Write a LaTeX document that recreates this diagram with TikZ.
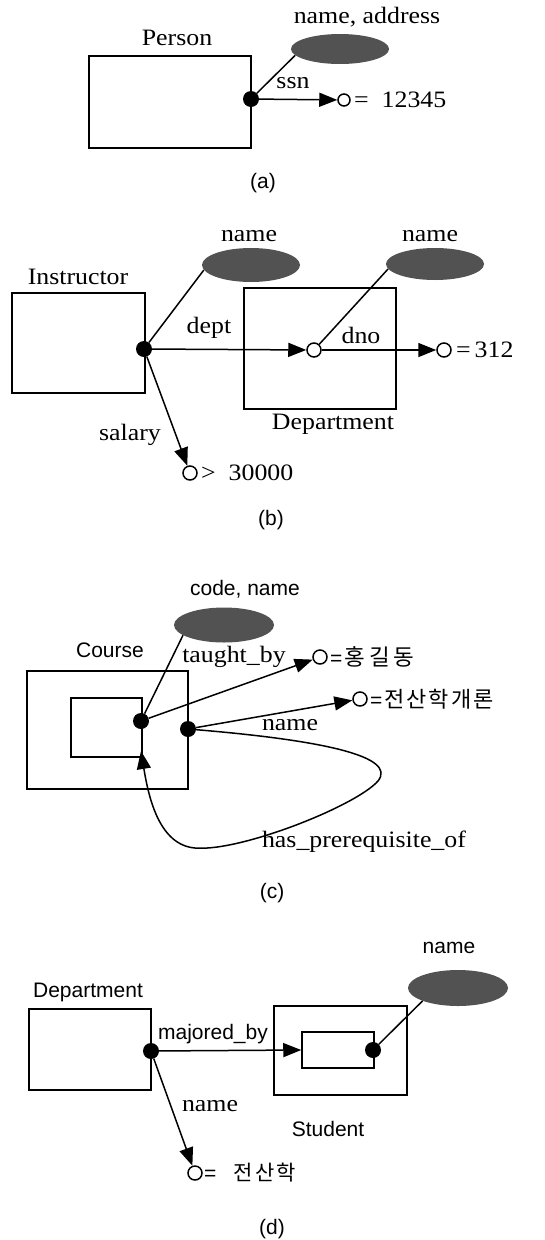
\documentclass[tikz,border=0pt]{standalone}
\usepackage{fontspec}
\setmainfont[FakeStretch=1.1]{Liberation Serif}
\setsansfont{Liberation Sans}
\newfontfamily\kr{Noto Sans CJK KR}
\usetikzlibrary{shapes.geometric,arrows.meta}

\begin{document}
\begin{tikzpicture}[x=1pt,y=-1pt,
  box/.style={draw,line width=1.5pt,inner sep=0pt},
  attr/.style={ellipse,fill=black!68,inner sep=0pt,minimum width=98pt,minimum height=32pt},
  obj/.style={circle,fill=black,inner sep=0pt,minimum size=16pt},
  val/.style={circle,draw,line width=1.5pt,fill=white,inner sep=0pt,minimum size=14pt},
  conn/.style={line width=1.5pt},
  arr/.style={line width=1.5pt,-{Triangle[length=18pt,width=14pt]}},
  serif/.style={font=\fontsize{23.5}{28}\selectfont,inner sep=0pt},
  sans/.style={font=\sffamily\fontsize{21}{25}\selectfont,inner sep=0pt},
]
\useasboundingbox (0,0) rectangle (544,1240);

% ---------------- (a) ----------------
\node[box,minimum width=162pt,minimum height=92pt] (person) at (170,102) {};
\node[serif] (personlbl) at (177,38) {Person};
\node[attr,minimum height=30pt] (aattr) at (340,49) {};
\node[serif] (aattrlbl) at (367,17) {name,\ address};
\node[obj] (adot) at (251,99) {};
\node[val,minimum size=12pt] (aval) at (344,100) {};
\node[serif,anchor=west] (avallbl) at (354,100) {=\ \ 12345};
\draw[conn] (adot) -- (aattr.188);
\draw[arr] (adot) -- (aval);
\node[serif] (ssn) at (293,83) {ssn};
\node[sans] (capa) at (263,183) {(a)};

% ---------------- (b) ----------------
\node[box,minimum width=133pt,minimum height=100pt] (instr) at (78.5,343) {};
\node[serif] (instrlbl) at (78,277) {Instructor};
\node[box,minimum width=152pt,minimum height=121pt] (deptb) at (320,348.5) {};
\node[serif] (deptblbl) at (333,424) {Department};
\node[attr,minimum height=34pt] (battr1) at (251,265) {};
\node[serif] (battr1lbl) at (249,236) {name};
\node[attr] (battr2) at (435,264) {};
\node[serif] (battr2lbl) at (430,236) {name};
\node[obj] (bdot) at (144,349) {};
\node[val] (bmid) at (314,350) {};
\node[val] (bdno) at (444,350) {};
\node[val] (bsal) at (190,473) {};
\draw[conn] (bdot) -- (battr1.186);
\draw[conn] (bmid) -- (battr2.186);
\draw[arr] (bdot) -- (bmid);
\draw[arr] (bmid) -- (bdno);
\draw[arr] (bdot) -- (bsal);
\node[serif] (deptlbl) at (209,328) {dept};
\node[serif] (dnolbl) at (361,335) {dno};
\node[serif] (sallbl) at (130,435) {salary};
\node[serif,anchor=west] (bdnoval) at (456,350) {=\,312};
\node[serif,anchor=west] (bsalval) at (201,473) {>\ \ 30000};
\node[sans] (capb) at (271,520) {(b)};

% ---------------- (c) ----------------
\node[box,minimum width=161pt,minimum height=118pt] (course) at (107.5,730) {};
\node[box,line width=1.2pt,minimum width=71pt,minimum height=59pt] (cinner) at (106.5,727.5) {};
\node[sans] (courselbl) at (110,650) {Course};
\node[attr,minimum width=100pt,minimum height=35pt] (cattr) at (224,625) {};
\node[sans] (cattrlbl) at (245,589) {code,\ name};
\node[obj] (cdot1) at (141,721) {};
\node[obj] (cdot2) at (188,729) {};
\node[val] (cval1) at (320,657) {};
\node[val] (cval2) at (360,699) {};
\coordinate (ctip) at (141,751);
\draw[conn] (cdot1) -- (cattr.194);
\draw[arr] (cdot1) -- (cval1);
\draw[arr] (cdot2) -- (cval2);
\draw[arr] (cdot2) .. controls (320,740) and (398,756) .. (378,781)
  .. controls (356,806) and (240,852) .. (195,848)
  .. controls (160,845) and (149,800) .. (ctip);
\node[serif] (taughtlbl) at (234,657) {taught\_by};
\node[serif] (cnamelbl) at (290,725) {name};
\node[serif] (prereqlbl) at (364,842) {has\_prerequisite\_of};
\node[sans,anchor=west] (cval1lbl) at (330,657)
  {=\kern2pt{\kr\fontsize{22.5}{26}\selectfont 홍\kern4pt 길\kern4pt 동}};
\node[sans,anchor=west] (cval2lbl) at (370,699)
  {=\kern2pt{\kr\fontsize{22}{26}\selectfont 전\kern2pt 산\kern2pt 학\kern2pt 개\kern2pt 론}};
\node[sans] (capc) at (272,893) {(c)};

% ---------------- (d) ----------------
\node[box,minimum width=122pt,minimum height=81pt] (deptd) at (90,1049.5) {};
\node[sans] (deptdlbl) at (88,992) {Department};
\node[box,minimum width=133pt,minimum height=89pt] (student) at (340.5,1050.5) {};
\node[box,minimum width=72pt,minimum height=36pt] (sinner) at (338,1050) {};
\node[sans] (studentlbl) at (328,1129) {Student};
\node[attr,minimum width=100pt,minimum height=36pt] (dattr) at (458,988) {};
\node[sans] (dattrlbl) at (449,948) {name};
\node[obj] (ddot1) at (151,1051) {};
\node[obj] (ddot2) at (373,1050) {};
\node[val] (dval) at (195,1173) {};
\draw[conn] (ddot2) -- (dattr.200);
\draw[arr] (ddot1) -- (sinner.west);
\draw[arr] (ddot1) -- (dval);
\node[sans] (majlbl) at (213,1034) {majored\_by};
\node[serif] (dnamelbl) at (210,1106) {name};
\node[sans,anchor=west] (dvallbl) at (204,1173)
  {=\ \ \ {\kr\fontsize{21}{25}\selectfont 전\kern2pt 산\kern2pt 학}};
\node[sans] (capd) at (272,1229) {(d)};
\end{tikzpicture}
\end{document}
